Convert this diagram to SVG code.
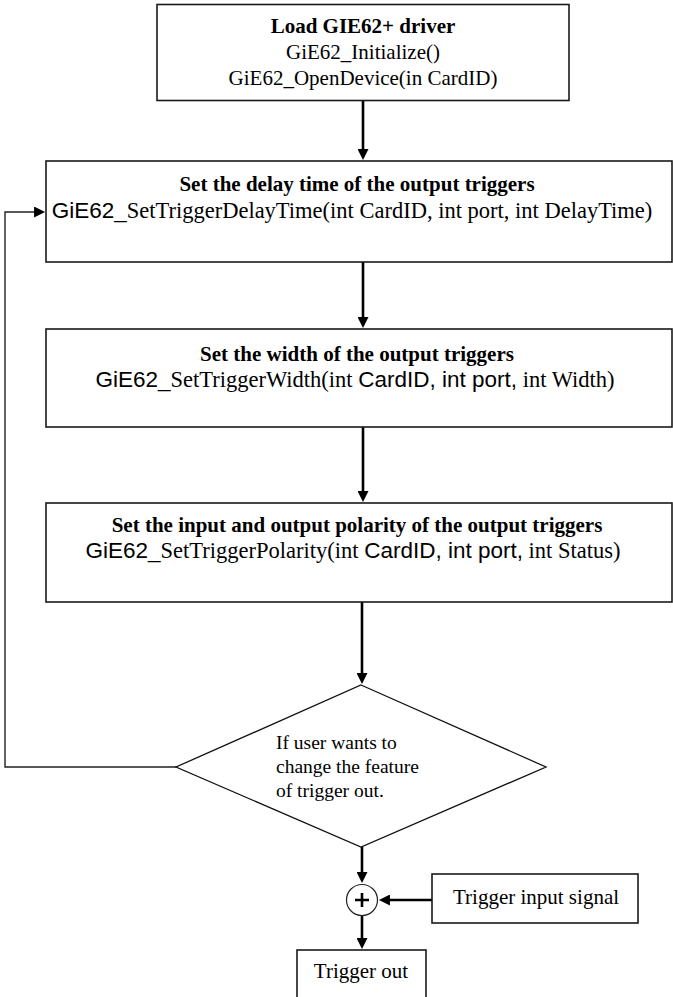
<svg xmlns="http://www.w3.org/2000/svg" width="673" height="997" viewBox="0 0 673 997">
<defs>
<style>
.box{fill:#fff;stroke:#1a1a1a;stroke-width:1.6}
.t{font-family:"Liberation Serif","Times New Roman",serif;font-size:21px;fill:#000}
.c{font-size:22.5px}
.d{font-size:19.5px}
.b{font-weight:bold}
.s{font-family:"Liberation Sans",Arial,sans-serif}
.ar{fill:none;stroke:#000;stroke-width:2.6}
.thin{fill:none;stroke:#222;stroke-width:1.4}
</style>
<marker id="ah" viewBox="0 0 10 10" refX="5.4" refY="5" markerWidth="13" markerHeight="11" markerUnits="userSpaceOnUse" orient="auto">
<path d="M0,0 L10,5 L0,10 z" fill="#000"/>
</marker>
</defs>
<rect width="673" height="997" fill="#fff"/>
<g id="connectors">
<line class="ar" x1="363" y1="101" x2="363" y2="155" marker-end="url(#ah)"/>
<line class="ar" x1="363" y1="262" x2="363" y2="323" marker-end="url(#ah)"/>
<line class="ar" x1="363" y1="427" x2="363" y2="497" marker-end="url(#ah)"/>
<line class="ar" x1="362" y1="602" x2="362" y2="679" marker-end="url(#ah)"/>
<line class="ar" x1="362" y1="847" x2="362" y2="878" marker-end="url(#ah)"/>
<line class="ar" x1="362" y1="916" x2="362" y2="944" marker-end="url(#ah)"/>
<line class="ar" x1="432" y1="900" x2="384" y2="900" stroke-width="2" marker-end="url(#ah)"/>
<polyline class="thin" points="176,767 5,767 5,212 40,212" marker-end="url(#ah)"/>
</g>
<g id="load">
<rect class="box" x="157" y="4.5" width="412" height="96"/>
<text class="t b" x="363" y="33" text-anchor="middle">Load GIE62+ driver</text>
<text class="t" x="363" y="59" text-anchor="middle">GiE62_Initialize()</text>
<text class="t" x="363" y="85" text-anchor="middle">GiE62_OpenDevice(in CardID)</text>
</g>
<g id="delay">
<rect class="box" x="46" y="161" width="626" height="101"/>
<text class="t b" x="357" y="191" text-anchor="middle">Set the delay time of the output triggers</text>
<text class="t c" x="352" y="218" text-anchor="middle"><tspan class="s">GiE62_</tspan>SetTriggerDelayTime(int CardID, int port, int DelayTime)</text>
</g>
<g id="width">
<rect class="box" x="46" y="329" width="626" height="98"/>
<text class="t b" x="357" y="361" text-anchor="middle">Set the width of the output triggers</text>
<text class="t c" x="355" y="387" text-anchor="middle"><tspan class="s">GiE62_</tspan>SetTriggerWidth(int <tspan class="s">CardID, int port,</tspan> int Width)</text>
</g>
<g id="polarity">
<rect class="box" x="46" y="503" width="626" height="99"/>
<text class="t b" x="357" y="532" text-anchor="middle">Set the input and output polarity of the output triggers</text>
<text class="t c" x="353" y="558" text-anchor="middle"><tspan class="s">GiE62_</tspan>SetTriggerPolarity(int <tspan class="s">CardID, int port,</tspan> int Status)</text>
</g>
<g id="decision">
<polygon points="361,685 546,767 361,847 176,767" fill="#fff" stroke="#111" stroke-width="1.3"/>
<text class="t d" x="276" y="749">If user wants to</text>
<text class="t d" x="276" y="773">change the feature</text>
<text class="t d" x="276" y="797">of trigger out.</text>
</g>
<g id="sum">
<circle cx="362" cy="900" r="15.5" fill="#fff" stroke="#222" stroke-width="1.2"/>
<path d="M355,900 H369 M362,893 V907" stroke="#000" stroke-width="2.6"/>
</g>
<g id="input">
<rect class="box" x="432" y="874" width="206" height="49"/>
<text class="t" x="536" y="904" text-anchor="middle">Trigger input signal</text>
</g>
<g id="out">
<rect class="box" x="297" y="950" width="129" height="60"/>
<text class="t" x="361" y="978" text-anchor="middle">Trigger out</text>
</g>
</svg>
